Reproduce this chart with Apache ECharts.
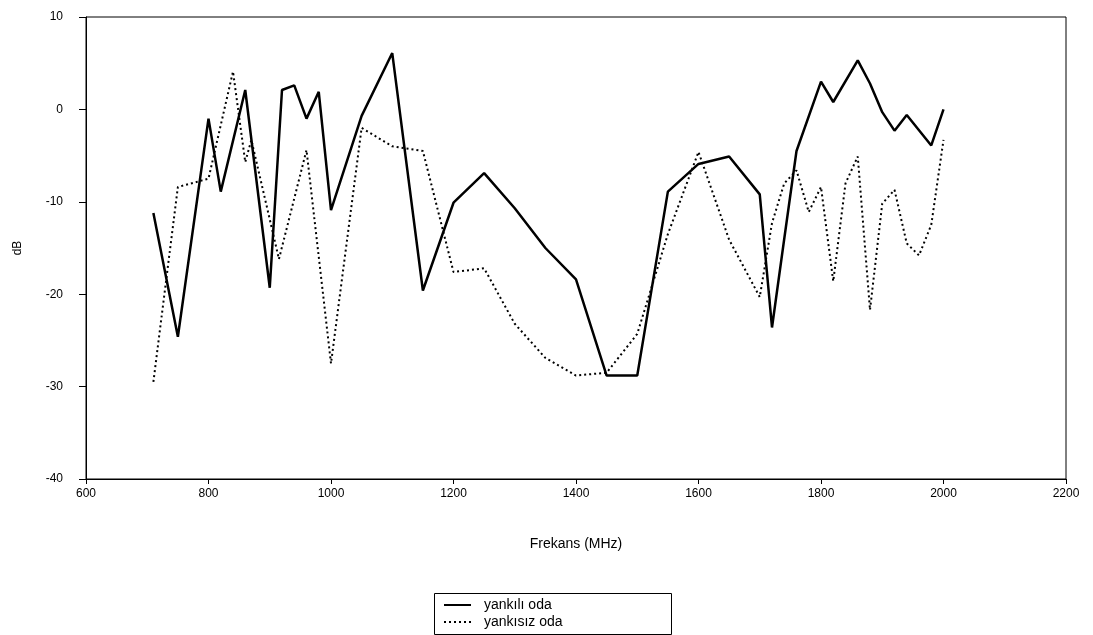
<!DOCTYPE html>
<html>
<head>
<meta charset="utf-8">
<title>Frekans - dB</title>
<script src="https://cdn.jsdelivr.net/npm/echarts@6/dist/echarts.min.js"></script>
<style>
  html, body { margin: 0; padding: 0; background: #fff; }
  #chart { width: 1093px; height: 635px; }
</style>
</head>
<body>
<div id="chart"></div>
<script>
// Reverberant room measurement (solid line)
const yankiliFreq = [710, 750, 800, 820, 860, 900, 920, 940, 960, 980, 1000, 1050, 1100, 1150, 1200, 1250, 1300, 1350, 1400, 1450, 1500, 1550, 1600, 1650, 1700, 1720, 1740, 1760, 1800, 1820, 1860, 1880, 1900, 1920, 1940, 1980, 2000];
const yankiliDb   = [-11.2, -24.6, -1.0, -8.9, 2.1, -19.3, 2.1, 2.6, -1.0, 1.9, -10.9, -0.7, 6.1, -19.6, -10.1, -6.9, -10.7, -15.0, -18.4, -28.8, -28.8, -8.9, -5.9, -5.1, -9.2, -23.6, -14.0, -4.5, 3.0, 0.8, 5.3, 2.8, -0.3, -2.3, -0.6, -3.9, 0.0];

// Anechoic room measurement (dotted line)
const yankisizFreq = [710, 750, 800, 840, 860, 870, 915, 960, 1000, 1050, 1100, 1150, 1200, 1250, 1300, 1350, 1400, 1450, 1500, 1550, 1600, 1650, 1700, 1720, 1740, 1760, 1780, 1800, 1820, 1840, 1860, 1880, 1900, 1920, 1940, 1960, 1980, 2000];
const yankisizDb   = [-29.5, -8.4, -7.5, 4.1, -5.7, -3.3, -16.2, -4.4, -27.5, -2.0, -4.0, -4.5, -17.6, -17.2, -23.2, -26.9, -28.8, -28.5, -24.3, -13.5, -4.6, -14.1, -20.3, -12.3, -8.0, -6.6, -11.1, -8.4, -18.6, -8.0, -5.1, -21.7, -10.2, -8.7, -14.5, -15.8, -12.5, -3.3];

// Axis settings
const xMin = 600, xMax = 2200, xStep = 200;
const yMin = -40, yMax = 10, yStep = 10;

const seriesNames = ['yankılı oda', 'yankısız oda'];
const xTitle = 'Frekans (MHz)';
const yTitle = 'dB';

const pairs = (xs, ys) => xs.map((x, i) => [x, ys[i]]);

const FONT = '"Liberation Sans", Arial, sans-serif';

const chart = echarts.init(document.getElementById('chart'), null, { renderer: 'canvas' });

chart.setOption({
  animation: false,
  backgroundColor: '#fff',
  textStyle: { fontFamily: FONT },
  grid: { left: 86, top: 17, right: 27, bottom: 156, show: true, borderColor: '#000', borderWidth: 1 },
  xAxis: {
    type: 'value',
    min: xMin, max: xMax, interval: xStep,
    name: xTitle,
    nameLocation: 'middle',
    nameGap: 58,
    nameTextStyle: { color: '#000', fontSize: 14, fontFamily: FONT },
    axisLine: { onZero: false, lineStyle: { color: '#000', width: 1 } },
    axisTick: { show: true, length: 5, lineStyle: { color: '#000' } },
    axisLabel: { color: '#000', fontSize: 12, margin: 9, fontFamily: FONT, formatter: v => String(v) },
    splitLine: { show: false }
  },
  yAxis: {
    type: 'value',
    min: yMin, max: yMax, interval: yStep,
    name: yTitle,
    nameLocation: 'middle',
    nameGap: 62,
    nameRotate: 90,
    nameTextStyle: { color: '#000', fontSize: 12, fontFamily: FONT },
    axisLine: { show: true, onZero: false, lineStyle: { color: '#000', width: 1 } },
    axisTick: { show: true, length: 7, lineStyle: { color: '#000' } },
    axisLabel: { color: '#000', fontSize: 12, margin: 23, fontFamily: FONT, formatter: v => String(v) },
    splitLine: { show: false }
  },
  legend: {
    orient: 'vertical',
    left: 443,
    top: 598,
    padding: 0,
    itemGap: 3,
    itemWidth: 27,
    itemHeight: 12,
    itemStyle: { opacity: 0 },
    textStyle: { color: '#000', fontSize: 14, fontFamily: FONT, padding: [0, 0, 0, 8] },
    data: seriesNames
  },
  graphic: [{
    type: 'rect',
    left: 432, top: 591,
    shape: { width: 237, height: 41 },
    style: { fill: 'none', stroke: '#000', lineWidth: 1 },
    z: 100
  }],
  series: [
    {
      name: seriesNames[0],
      type: 'line',
      data: pairs(yankiliFreq, yankiliDb),
      symbol: 'none',
      lineStyle: { color: '#000', width: 2.5, type: 'solid' },
      itemStyle: { color: '#000' },
      z: 3
    },
    {
      name: seriesNames[1],
      type: 'line',
      data: pairs(yankisizFreq, yankisizDb),
      symbol: 'none',
      lineStyle: { color: '#000', width: 2, type: [2, 3] },
      itemStyle: { color: '#000' },
      z: 2
    }
  ]
});
</script>
</body>
</html>
